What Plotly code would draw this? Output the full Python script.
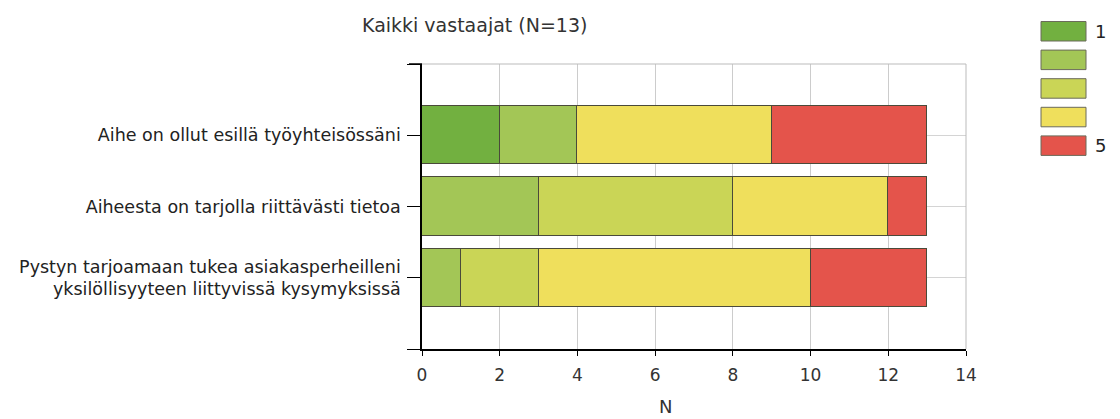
import plotly.graph_objects as go

categories = [
    "Aihe on ollut esillä työyhteisössäni",
    "Aiheesta on tarjolla riittävästi tietoa",
    "Pystyn tarjoamaan tukea asiakasperheilleni<br>yksilöllisyyteen liittyvissä kysymyksissä",
]
series_names = ["1", "2", "3", "4", "5"]
legend_labels = ["1", "", "", "", "5"]
values = {
    "1": [2, 0, 0],
    "2": [2, 3, 1],
    "3": [0, 5, 2],
    "4": [5, 4, 7],
    "5": [4, 1, 3],
}
colors = ["#72b040", "#a3c656", "#cad556", "#efdf5c", "#e4544b"]
x_ticks = [0, 2, 4, 6, 8, 10, 12, 14]
title_text = "Kaikki vastaajat (N=13)"
x_title = "N"

FONT = "DejaVu Sans"
ypos = list(range(len(categories)))

W, H = 1120, 419
PX0, PX1, PY0, PY1 = 422, 966, 64, 349
PW, PH = PX1 - PX0, PY1 - PY0


def px(x):
    return (x - PX0) / PW


def py(y):
    return (PY1 - y) / PH


fig = go.Figure()
for name, col in zip(series_names, colors):
    fig.add_trace(go.Bar(
        y=ypos, x=values[name], orientation="h", name=name,
        marker=dict(color=col, line=dict(color="#4a4a3a", width=1)),
        width=0.82, showlegend=False,
    ))

# legend drawn as boxes at top-right
for i, (lab, col) in enumerate(zip(legend_labels, colors)):
    top = 21.5 + 28.6 * i
    fig.add_shape(type="rect", xref="paper", yref="paper",
                  x0=px(1041), x1=px(1086), y0=py(top), y1=py(top + 19.5),
                  fillcolor=col, line=dict(color="#6b6b5a", width=1))
    if lab:
        fig.add_annotation(xref="paper", yref="paper",
                           x=px(1093), y=py(top + 9.5),
                           text=lab, showarrow=False, xanchor="left", yanchor="middle",
                           font=dict(family=FONT, size=18, color="#222"))

fig.add_annotation(xref="paper", yref="paper", x=px(474), y=py(25),
                   text=title_text, showarrow=False, xanchor="center", yanchor="middle",
                   font=dict(family=FONT, size=19, color="#333"))
fig.add_annotation(xref="paper", yref="paper", x=px(665), y=py(406),
                   text=x_title, showarrow=False, xanchor="center", yanchor="middle",
                   font=dict(family=FONT, size=18, color="#333"))

fig.update_layout(
    barmode="stack",
    width=W, height=H,
    margin=dict(l=PX0, r=W - PX1, t=PY0, b=H - PY1, autoexpand=False),
    paper_bgcolor="white", plot_bgcolor="white",
    font=dict(family=FONT, size=17, color="#222"),
    showlegend=False,
    bargap=0,
)
fig.update_xaxes(
    range=[0, 14], tickvals=x_ticks, ticktext=[str(t) for t in x_ticks],
    showgrid=True, gridcolor="#cccccc", gridwidth=1,
    showline=True, linecolor="#000", linewidth=1.5,
    ticks="outside", ticklen=5, tickcolor="#000",
    mirror=False, zeroline=False, ticklabelstandoff=5,
    tickfont=dict(family=FONT, size=17, color="#333"),
)
fig.update_yaxes(
    range=[3, -1], tickvals=[-1, 0, 1, 2, 3], ticktext=[""] + categories + [""],
    showgrid=True, gridcolor="#d4d4d4",
    showline=True, linecolor="#000", linewidth=1.5,
    ticks="outside", ticklen=13, tickcolor="#000",
    zeroline=False, ticklabelstandoff=3,
    tickfont=dict(family=FONT, size=17.5, color="#222"),
)
# top and right frame lines
fig.add_shape(type="line", xref="paper", yref="paper", x0=0, x1=1, y0=1, y1=1,
              line=dict(color="#bbbbbb", width=1))
fig.add_shape(type="line", xref="paper", yref="paper", x0=1, x1=1, y0=0, y1=1,
              line=dict(color="#bbbbbb", width=1))
fig.add_shape(type="line", xref="paper", yref="paper", x0=px(409), x1=0, y0=1, y1=1,
              line=dict(color="#000", width=1.5))

fig.write_html("out.html",
               config={"displayModeBar": False},
               post_script="document.body.style.margin='0';document.body.style.overflow='hidden';")
